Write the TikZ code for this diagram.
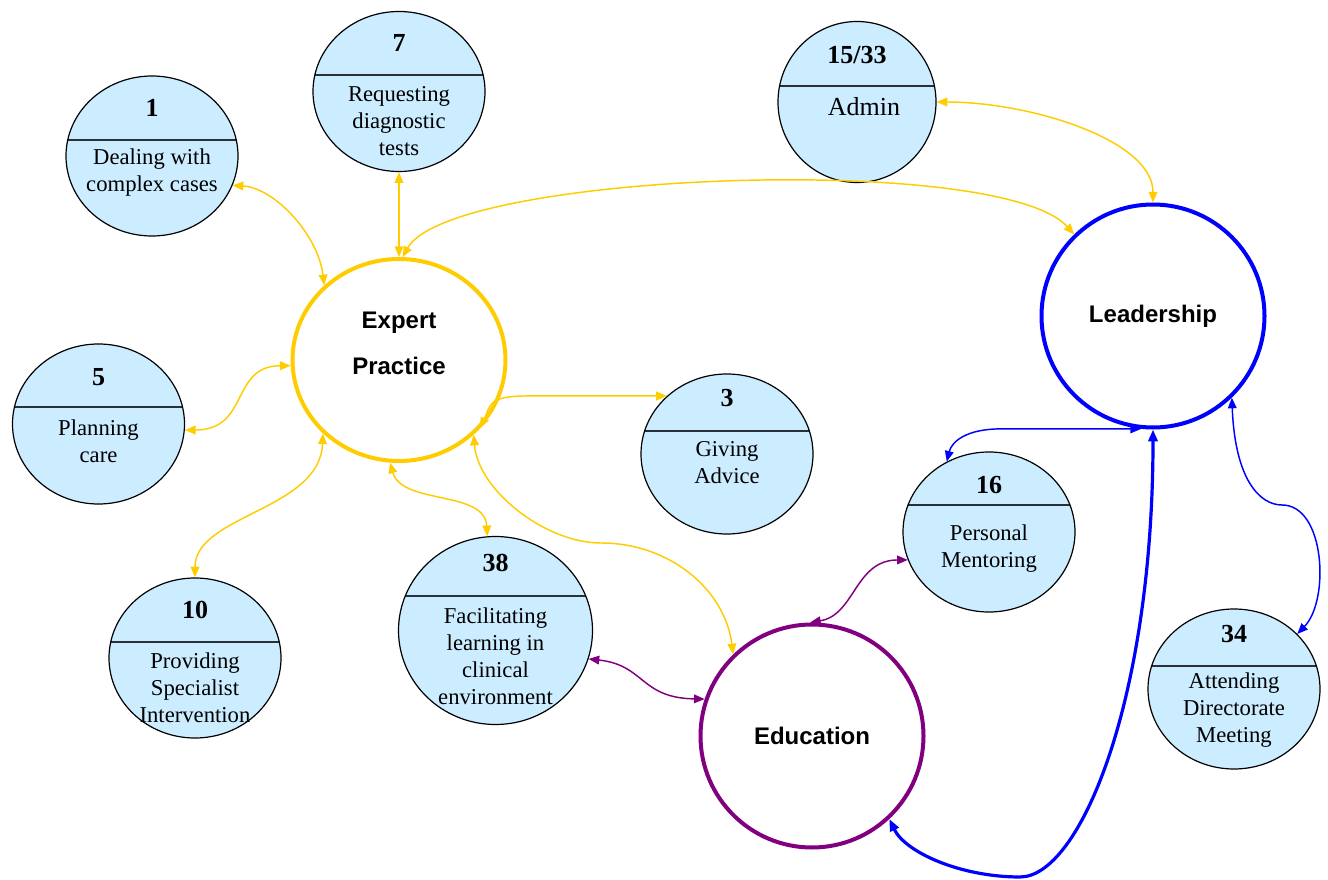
\documentclass[tikz,border=0pt]{standalone}
\usepackage{fontspec}
\setmainfont{Liberation Serif}
\setsansfont{Liberation Sans}
\usetikzlibrary{shapes.geometric,arrows.meta}
\definecolor{gold}{RGB}{255,204,0}
\definecolor{taskblue}{RGB}{204,236,255}
\definecolor{edpurple}{RGB}{128,0,128}
\definecolor{leadblue}{RGB}{0,0,255}
\definecolor{rulegray}{RGB}{40,48,56}

\begin{document}
\begin{tikzpicture}[x=0.75pt, y=-0.75pt,
  task/.style={ellipse, draw, fill=taskblue, line width=0.9pt, minimum width=129pt, minimum height=120pt, inner sep=0pt,
    path picture={\draw[rulegray, line width=0.9pt] ([yshift=#1]path picture bounding box.west) -- ([yshift=#1]path picture bounding box.east);}},
  num/.style={font=\fontsize{19.5}{22}\selectfont\bfseries, inner sep=0pt},
  desc/.style={font=\fontsize{17}{20.25}\selectfont, align=center, inner sep=0pt},
  role/.style={circle, line width=3pt, minimum size=167.25pt, inner sep=0pt, font=\sffamily\bfseries\fontsize{18}{23}\selectfont},
  link/.style={<->, >={Triangle[length=8pt,width=6.5pt]}, line width=1.1pt},
  bold link/.style={<->, >={Triangle[length=9pt,width=7pt]}, line width=2.4pt}]
\useasboundingbox (0,0) rectangle (1328,880);
\node[role, ellipse, draw=gold, minimum width=159.75pt, minimum height=151.5pt] (ep) at (399,360) {};
\node[font=\sffamily\bfseries\fontsize{18}{23}\selectfont, align=center] (eplabel) at (399,343) {Expert\\[11.5pt]Practice};
\node[role, draw=leadblue] (ld) at (1153,316) {Leadership};
\node[role, draw=edpurple] (ed) at (812,736) {Education};
\node[task=12pt] (n1) at (152,156) {};
\node[num] (n1num) at (152,108) {1};
\node[desc] (n1txt) at (152,172.5) {Dealing with\\complex cases};
\node[task=12.4pt] (n7) at (399,91.5) {};
\node[num] (n7num) at (399,43) {7};
\node[desc] (n7txt) at (399,121.5) {Requesting\\diagnostic\\tests};
\node[task=12pt, minimum width=118.5pt, minimum height=120.75pt] (nA) at (857,102) {};
\node[num] (nAnum) at (857,55) {15/33};
\node[desc, font=\fontsize{19.5}{22}\selectfont] (nAtxt) at (864,107) {Admin};
\node[task=12.75pt] (n5) at (98.5,424) {};
\node[num] (n5num) at (98.5,377) {5};
\node[desc] (n5txt) at (98.5,441) {Planning\\care};
\node[task=17.25pt] (n3) at (727,454) {};
\node[num] (n3num) at (727,398) {3};
\node[desc] (n3txt) at (727,463) {Giving\\Advice};
\node[task=12pt] (n10) at (195,658) {};
\node[num] (n10num) at (195,610) {10};
\node[desc] (n10txt) at (195,687.5) {Providing\\Specialist\\Intervention};
\node[task=25.9pt, minimum width=145.5pt, minimum height=141pt] (n38) at (495.5,630.5) {};
\node[num] (n38num) at (495.5,563) {38};
\node[desc] (n38txt) at (495.5,656) {Facilitating\\learning in\\clinical\\environment};
\node[task=20.25pt] (n16) at (989,532) {};
\node[num] (n16num) at (989,485) {16};
\node[desc] (n16txt) at (989,548.5) {Personal\\Mentoring};
\node[task=17.25pt] (n34) at (1234,689) {};
\node[num] (n34num) at (1234,634) {34};
\node[desc] (n34txt) at (1234,710.5) {Attending\\Directorate\\Meeting};
\draw[link, gold] (n1.-20) .. controls (275,188) and (318,235) .. (ep.135);
\draw[link, gold] (n7.south) -- (ep.north);
\draw[link, gold] (ep.88) .. controls (450,172) and (1000,152) .. (ld.134);
\draw[link, gold] (nA.east) .. controls (1030,102) and (1153,140) .. (ld.north);
\draw[link, gold] (ep.183) .. controls (230,366) and (250,430) .. (n5.-4);
\draw[link, gold] (n3.136) -- ++(-140,0) .. controls +(-40,0) and +(10,-22) .. (ep.-40);
\draw[link, gold] (ep.-45) .. controls (478,490) and (545,543) .. (601,543) .. controls (670,543) and (725,590) .. (ed.134);
\draw[link, gold] (ep.-95) .. controls (402,505) and (485,490) .. (n38.95);
\draw[link, gold] (ep.-136) .. controls (320,510) and (195,515) .. (n10.north);
\draw[link, edpurple] (n38.-17) .. controls (645,665) and (640,698) .. (ed.161);
\draw[link, edpurple] (ed.91) .. controls (855,615) and (855,560) .. (n16.199);
\draw[link, leadblue] (ld.-96) -- ++(-140,0) .. controls +(-35,0) and +(5,-20) .. (n16.121);
\draw[bold link, leadblue] (ld.south) .. controls (1153,700) and (1080,877) .. (1020,877) .. controls (960,877) and (905,852) .. (ed.-47);
\draw[link, leadblue] (ld.-46) .. controls (1235,480) and (1260,505) .. (1282,505) .. controls (1325,505) and (1330,600) .. (n34.41);
\end{tikzpicture}
\end{document}
